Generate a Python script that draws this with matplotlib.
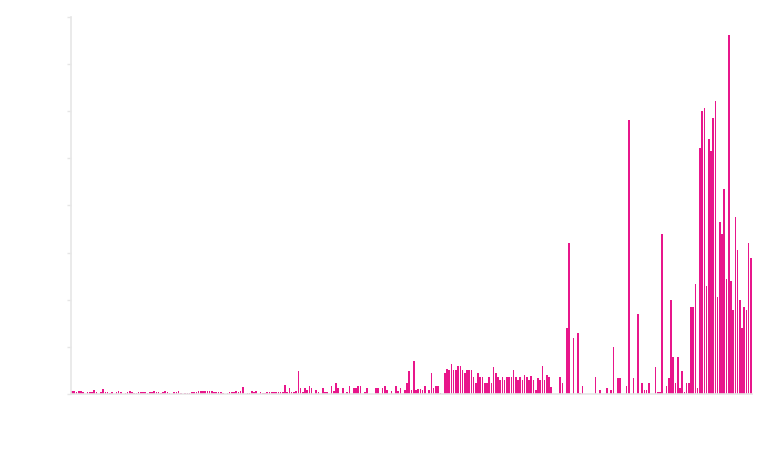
import numpy as np
import matplotlib
matplotlib.use("Agg")
import matplotlib.pyplot as plt

# bar heights, left to right
values = [
    0.6, 0.6, 0.4, 0.7, 0.7, 0.5, 0, 0.4, 0.4, 0.5,
    0.8, 0.4, 0, 0.5, 1.1, 0.5, 0.4, 0.3, 0.4, 0,
    0.5, 0.6, 0.4, 0, 0.3, 0.5, 0.7, 0.5, 0.3, 0.3,
    0.5, 0.5, 0.5, 0.4, 0.3, 0.5, 0.5, 0.7, 0.4, 0.4,
    0.3, 0.5, 0.7, 0.5, 0.3, 0, 0.4, 0.4, 0.6, 0.3,
    0, 0.3, 0.3, 0.3, 0.5, 0.5, 0.5, 0.6, 0.6, 0.6,
    0.6, 0.6, 0.6, 0.6, 0.5, 0.4, 0.5, 0.5, 0.3, 0,
    0.3, 0.4, 0.4, 0.5, 0.6, 0.5, 0.7, 1.5, 0, 0.3,
    0.3, 0.7, 0.4, 0.7, 0, 0.4, 0.3, 0.3, 0.5, 0.5,
    0.5, 0.5, 0.5, 0.5, 0.5, 0.5, 1.9, 0.5, 1.2, 0.5,
    0.5, 0.7, 4.9, 1.2, 0.5, 1.2, 0.8, 1.8, 1.3, 0,
    0.8, 0.5, 0, 1.3, 0.5, 0.5, 0, 1.8, 0.6, 2.3,
    1.3, 0, 1.3, 0, 0.5, 1.8, 0, 1.3, 1.3, 1.8,
    1.8, 0, 0.5, 1.3, 0, 0, 0, 1.3, 1.3, 0,
    1.3, 1.8, 0.8, 0, 0.6, 0, 1.8, 0.6, 1.3, 0,
    0.8, 2.3, 4.9, 0.8, 7.1, 0.8, 1.0, 1.1, 0.8, 1.8,
    0, 0.8, 4.5, 1.3, 1.8, 1.8, 0.3, 0, 4.5, 5.4,
    5.0, 6.4, 5.0, 5.0, 5.9, 5.9, 5.0, 4.5, 5.0, 5.0,
    5.0, 3.5, 2.4, 4.5, 3.5, 3.5, 2.4, 2.4, 3.5, 2.4,
    5.7, 4.5, 3.5, 2.9, 3.5, 2.9, 3.5, 3.5, 3.5, 5.0,
    3.5, 2.9, 3.5, 2.9, 4.0, 3.5, 2.9, 3.9, 2.9, 0.9,
    3.4, 2.9, 6.0, 2.9, 4.0, 3.5, 1.4, 0, 0, 0,
    3.7, 2.4, 0, 13.9, 32, 0, 11.8, 0, 12.9, 0.3,
    1.8, 0, 0, 0, 0, 0, 3.5, 0, 0.85, 0,
    0, 1.3, 0, 0.85, 9.9, 0, 3.3, 3.3, 0, 0,
    1.8, 58.2, 0, 3.3, 0, 16.9, 0, 2.3, 0.85, 0.85,
    2.3, 0, 0, 5.8, 0.5, 0.5, 33.9, 0, 1.8, 3.3,
    20, 7.9, 2.3, 7.9, 1.3, 4.8, 0.5, 2.3, 2.3, 18.4,
    18.4, 23.4, 1.3, 52.1, 60, 60.6, 22.9, 54.1, 51.6, 58.6,
    62.1, 20.5, 36.5, 34, 43.5, 24.4, 76.2, 23.9, 17.9, 37.5,
    30.5, 20, 13.9, 18.4, 17.9, 32, 28.9,
]
y_ticks = [0, 10, 20, 30, 40, 50, 60, 70, 80]

fig = plt.figure(figsize=(7.68, 4.71), dpi=100)
ax = fig.add_axes([0.0924, 0.1635, 0.8868, 0.8004])

x = np.arange(len(values))
ax.bar(x, values, width=0.72, color="#e8168b", linewidth=0)

ax.set_xlim(-0.5, len(values) - 0.5)
ax.set_ylim(0, 80)
ax.set_yticks(y_ticks)
ax.set_yticklabels([])
ax.set_xticks([])

for side in ("top", "right"):
    ax.spines[side].set_visible(False)
for side in ("left", "bottom"):
    ax.spines[side].set_color("#e6e6e6")
    ax.spines[side].set_linewidth(1.2)
ax.tick_params(axis="y", length=3, color="#e6e6e6", width=1)

fig.savefig("out.png", dpi=100)
